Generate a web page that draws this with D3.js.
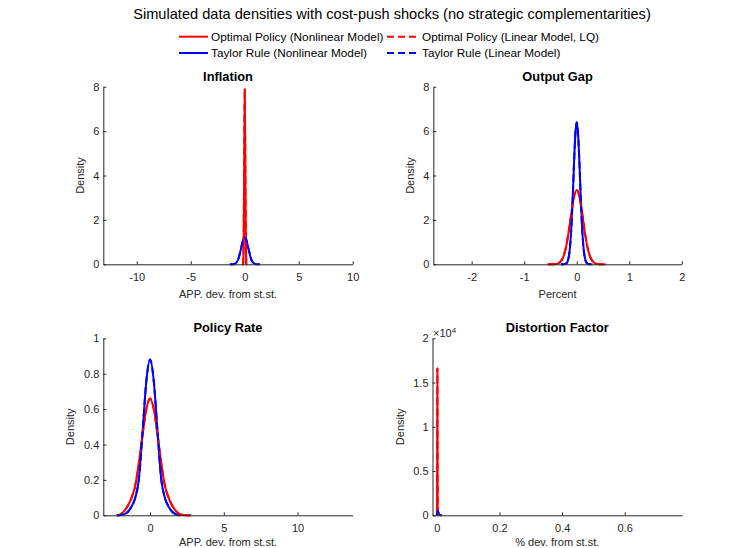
<!DOCTYPE html>
<html>
<head>
<meta charset="utf-8">
<script src="https://cdn.jsdelivr.net/npm/d3@7"></script>
<style>
    body { margin: 0; background: #ffffff; }
    svg { display: block; font-family: "Liberation Sans", Arial, Helvetica, sans-serif; }
    .tick text { fill: #262626; font-size: 11px; }
    .domain, .tick line { stroke: #262626; }
</style>
</head>
<body>
<div id="chart"></div>
<script>
var width = 749,
    height = 548;

var figTitle = "Simulated data densities with cost-push shocks (no strategic complementarities)";
var seriesNames = ["Optimal Policy (Nonlinear Model)", "Optimal Policy (Linear Model, LQ)",
    "Taylor Rule (Nonlinear Model)", "Taylor Rule (Linear Model)"];
var panelTitles = ["Inflation", "Output Gap", "Policy Rate", "Distortion Factor"];
var xLabels = ["APP. dev. from st.st.", "Percent", "APP. dev. from st.st.", "% dev. from st.st."];

// axis limits and ticks
var xLimits = [[-13.1, 10], [-2.73, 2], [-3.17, 13.74], [-0.014, 0.783]];
var yLimits = [[0, 8], [0, 8], [0, 1], [0, 20000]];
var xTickVals = [[-10, -5, 0, 5, 10], [-2, -1, 0, 1, 2], [0, 5, 10], [0, 0.2, 0.4, 0.6]];
var yTickVals = [[0, 2, 4, 6, 8], [0, 2, 4, 6, 8], [0, 0.2, 0.4, 0.6, 0.8, 1], [0, 5000, 10000, 15000, 20000]];

// Inflation
var inflOptX = [-0.25, -0.2, -0.15, -0.1, -0.05, 0, 0.05, 0.1, 0.15, 0.2, 0.25];
var inflOptY = [0, 0.003, 0.09, 1.07, 4.79, 7.9, 4.79, 1.07, 0.09, 0.003, 0];
var inflTaylorX = [-1.375, -1.25, -1.125, -1, -0.875, -0.75, -0.625, -0.5, -0.375, -0.25, -0.125, 0,
    0.125, 0.25, 0.375, 0.5, 0.625, 0.75, 0.875, 1, 1.125, 1.25, 1.375];
var inflTaylorY = [0, 0.001, 0.004, 0.012, 0.037, 0.092, 0.2, 0.39, 0.64, 0.916, 1.136, 1.22,
    1.136, 0.916, 0.64, 0.39, 0.2, 0.092, 0.037, 0.012, 0.004, 0.001, 0];

// Output gap
var ogOptX = [-0.55, -0.5, -0.45, -0.4, -0.35, -0.3, -0.25, -0.2, -0.15, -0.1, -0.05, 0,
    0.05, 0.1, 0.15, 0.2, 0.25, 0.3, 0.35, 0.4, 0.45, 0.5, 0.55];
var ogOptY = [0, 0.001, 0.003, 0.012, 0.044, 0.14, 0.37, 0.82, 1.51, 2.35, 3.07, 3.35,
    3.07, 2.35, 1.51, 0.82, 0.37, 0.14, 0.044, 0.012, 0.003, 0.001, 0];
var ogTaylorX = [-0.3, -0.275, -0.25, -0.225, -0.2, -0.175, -0.15, -0.125, -0.1, -0.075, -0.05, -0.025, 0,
    0.025, 0.05, 0.075, 0.1, 0.125, 0.15, 0.175, 0.2, 0.225, 0.25, 0.275, 0.3];
var ogTaylorY = [0, 0, 0.002, 0.01, 0.037, 0.12, 0.35, 0.86, 1.76, 3.1, 4.64, 5.91, 6.4,
    5.91, 4.64, 3.1, 1.76, 0.86, 0.35, 0.12, 0.037, 0.01, 0.002, 0, 0];

// Policy rate
var prOptX = [-2.25, -2, -1.75, -1.5, -1.25, -1, -0.75, -0.5, -0.25, 0, 0.25, 0.5, 0.75, 1,
    1.25, 1.5, 1.75, 2, 2.25, 2.5, 2.75];
var prOptY = [0, 0.005, 0.025, 0.055, 0.1, 0.17, 0.3, 0.46, 0.6, 0.66, 0.6, 0.46, 0.3, 0.17,
    0.1, 0.055, 0.025, 0.006, 0.002, 0, 0];
var prTaylorX = [-2.25, -2, -1.75, -1.5, -1.25, -1, -0.75, -0.5, -0.25, 0, 0.25, 0.5, 0.75, 1,
    1.25, 1.5, 1.75, 2];
var prTaylorY = [0, 0.002, 0.006, 0.02, 0.05, 0.1, 0.21, 0.48, 0.76, 0.88, 0.76, 0.48, 0.21, 0.1,
    0.05, 0.02, 0.006, 0];

// Distortion factor
var dfOptX = [0, 0.0005, 0.001, 0.0015, 0.002, 0.0025, 0.003];
var dfOptY = [0, 1500, 9000, 16600, 9000, 1500, 0];
var dfTaylorX = [0, 0.001, 0.002, 0.003, 0.004, 0.006, 0.008, 0.01, 0.013, 0.016];
var dfTaylorY = [0, 250, 480, 500, 400, 220, 100, 40, 10, 0];

// linear-model densities sit on top of the nonlinear ones
var inflOptLinY = inflOptY, inflTaylorLinY = inflTaylorY;
var ogOptLinY = ogOptY, ogTaylorLinY = ogTaylorY;
var prOptLinY = prOptY, prTaylorLinY = prTaylorY;
var dfOptLinY = dfOptY, dfTaylorLinY = dfTaylorY;

var seriesColor = ["#ff0000", "#ff0000", "#0000ff", "#0000ff"];
var seriesDash = [null, "7,4", null, "7,4"];

// layout of the 2x2 grid
var boxes = [
    { left: 103.3, top: 86.7, w: 249.4, h: 177.6, yLab: 19 },
    { left: 433.3, top: 86.7, w: 248.5, h: 177.6, yLab: 19 },
    { left: 103.3, top: 338.3, w: 249.4, h: 177, yLab: 29 },
    { left: 432.5, top: 338.3, w: 249.5, h: 177, yLab: 29 }
];

var panelSeries = [
    [[inflOptX, inflOptY], [inflTaylorX, inflTaylorY], [inflOptX, inflOptLinY], [inflTaylorX, inflTaylorLinY]],
    [[ogOptX, ogOptY], [ogTaylorX, ogTaylorY], [ogOptX, ogOptLinY], [ogTaylorX, ogTaylorLinY]],
    [[prOptX, prOptY], [prTaylorX, prTaylorY], [prOptX, prOptLinY], [prTaylorX, prTaylorLinY]],
    [[dfOptX, dfOptY], [dfTaylorX, dfTaylorY], [dfOptX, dfOptLinY], [dfTaylorX, dfTaylorLinY]]
];
// draw order: red solid, blue solid, red dashed, blue dashed
var seriesIndex = [0, 2, 1, 3];

var svg = d3.select("#chart").append("svg")
    .attr("width", width)
    .attr("height", height);

function tickText(d) {
    return String(+d.toFixed(6));
}

function drawPanel(k) {
    var b = boxes[k];
    var x = d3.scaleLinear().domain(xLimits[k]).range([0, b.w]);
    var y = d3.scaleLinear().domain(yLimits[k]).range([b.h, 0]);

    var g = svg.append("g")
        .attr("transform", "translate(" + b.left + "," + b.top + ")");

    var line = d3.line()
        .x(function (d) { return x(d[0]); })
        .y(function (d) { return y(d[1]); })
        .curve(d3.curveMonotoneX);

    panelSeries[k].forEach(function (s, i) {
        var pts = s[0].map(function (v, j) { return [v, s[1][j]]; });
        var si = seriesIndex[i];
        g.append("path")
            .datum(pts)
            .attr("fill", "none")
            .attr("stroke", seriesColor[si])
            .attr("stroke-width", 2)
            .attr("stroke-dasharray", seriesDash[si])
            .attr("stroke-linejoin", "round")
            .attr("d", line);
    });

    var xAxis = d3.axisBottom(x)
        .tickValues(xTickVals[k])
        .tickSizeInner(-3)
        .tickSizeOuter(0)
        .tickPadding(9)
        .tickFormat(tickText);
    g.append("g")
        .attr("transform", "translate(0," + b.h + ")")
        .call(xAxis)
        .attr("font-family", null)
        .attr("font-size", null);

    var yAxis = d3.axisLeft(y)
        .tickValues(yTickVals[k])
        .tickSizeInner(-3)
        .tickSizeOuter(0)
        .tickPadding(4)
        .tickFormat(k == 3 ? function (d) { return tickText(d / 10000); } : tickText);
    g.append("g")
        .call(yAxis)
        .attr("font-family", null)
        .attr("font-size", null);

    g.append("text")
        .attr("x", b.w / 2)
        .attr("y", -6)
        .attr("text-anchor", "middle")
        .attr("font-weight", "bold")
        .attr("font-size", "12.8px")
        .attr("fill", "#000")
        .text(panelTitles[k]);

    // bottom-row labels sit right at the lower edge of the figure
    g.append("text")
        .attr("x", b.w / 2)
        .attr("y", Math.min(b.h + 33.5, height - 1.5 - b.top))
        .attr("text-anchor", "middle")
        .attr("font-size", "11px")
        .attr("fill", "#262626")
        .text(xLabels[k]);

    g.append("text")
        .attr("transform", "translate(" + (-b.yLab) + "," + (b.h / 2) + ") rotate(-90)")
        .attr("text-anchor", "middle")
        .attr("font-size", "11px")
        .attr("fill", "#262626")
        .text("Density");

    if (k == 3) {
        var ex = g.append("text")
            .attr("x", 0.5)
            .attr("y", -1)
            .attr("font-size", "11px")
            .attr("fill", "#262626")
            .text("\u00d710");
        ex.append("tspan")
            .attr("dy", -4.5)
            .attr("font-size", "8px")
            .text("4");
    }
}

// Figure title
svg.append("text")
    .attr("x", 392)
    .attr("y", 19)
    .attr("text-anchor", "middle")
    .attr("font-size", "14.6px")
    .attr("fill", "#000")
    .text(figTitle);

// Legend, two columns
var legendCols = [179, 387];
var legendRows = [36.7, 53];
seriesNames.forEach(function (name, i) {
    var lx = legendCols[i % 2],
        ly = legendRows[Math.floor(i / 2)];
    svg.append("line")
        .attr("x1", lx)
        .attr("x2", lx + (i % 2 ? 32 : 29))
        .attr("y1", ly)
        .attr("y2", ly)
        .attr("stroke", seriesColor[i])
        .attr("stroke-width", 2)
        .attr("stroke-dasharray", seriesDash[i]);
    svg.append("text")
        .attr("x", lx + (i % 2 ? 35 : 32))
        .attr("y", ly + 4)
        .attr("font-size", "11.8px")
        .attr("fill", "#000")
        .text(name);
});

for (var k = 0; k < 4; k++) {
    drawPanel(k);
}
</script>
</body>
</html>
